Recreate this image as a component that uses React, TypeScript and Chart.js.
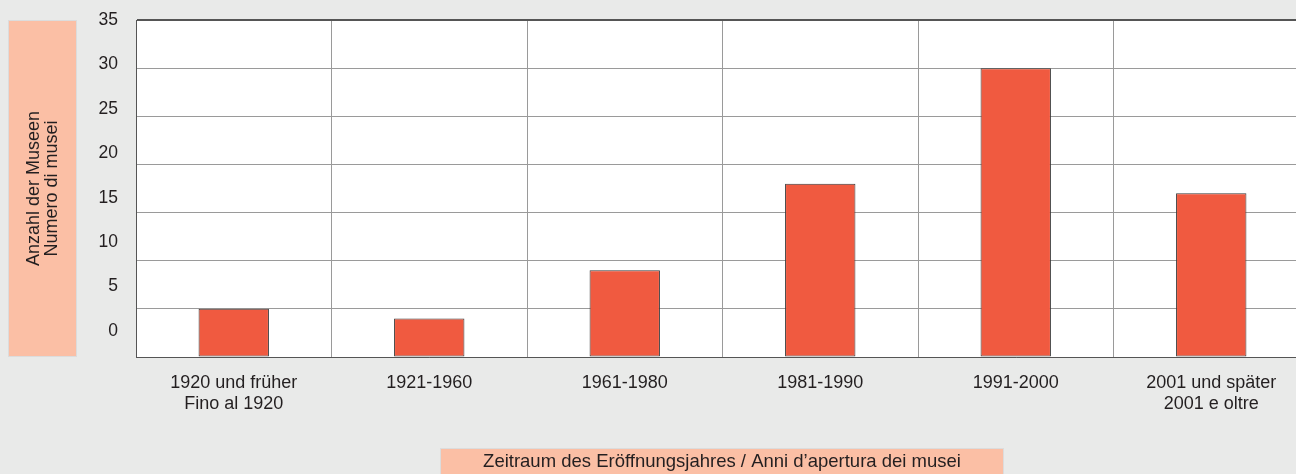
import React, { useEffect, useRef } from "react";
import { Chart, registerables } from "chart.js";
Chart.register(...registerables);

const categories: string[][] = [
  ["1920 und früher", "Fino al 1920"],
  ["1921-1960"],
  ["1961-1980"],
  ["1981-1990"],
  ["1991-2000"],
  ["2001 und später", "2001 e oltre"],
];
const museumCounts = [5, 4, 9, 18, 30, 17];
const yTickValues = [0, 5, 10, 15, 20, 25, 30, 35];
const yTitleLines = ["Anzahl der Museen", "Numero di musei"];
const xTitle = "Zeitraum des Eröffnungsjahres / Anni d’apertura dei musei";
const yMin = 0;
const yMax = 35;
const yStep = 5;
// label axis is compressed as in the original (0 label sits above the baseline)
const yLabelMin = -2.92;

const BG = "#e9eae9";
const SALMON = "#fbbfa5";
const BAR = "#f05a40";
const TEXT = "#231f20";
const FONT = "'Liberation Sans', Arial, sans-serif";

const decorPlugin = {
  id: "decor",
  beforeDraw(chart: any) {
    const { ctx, chartArea } = chart;
    const top = chartArea.top;
    const bottom = chartArea.bottom;
    ctx.save();
    ctx.fillStyle = BG;
    ctx.fillRect(0, 0, chart.width, chart.height);
    ctx.fillStyle = "#ffffff";
    ctx.fillRect(chartArea.left, top, chartArea.right - chartArea.left, bottom - top);
    // y title box
    ctx.fillStyle = SALMON;
    ctx.fillRect(8, top, 69, bottom - top);
    ctx.strokeStyle = "#dcdcdc";
    ctx.lineWidth = 1;
    ctx.strokeRect(8.5, top + 0.5, 68, bottom - top - 1);
    ctx.fillStyle = TEXT;
    ctx.font = `18px ${FONT}`;
    ctx.textAlign = "center";
    ctx.textBaseline = "middle";
    const cy = (top + bottom) / 2;
    ctx.translate(43, cy);
    ctx.rotate(-Math.PI / 2);
    ctx.fillText(yTitleLines[0], 0, -9);
    ctx.fillText(yTitleLines[1], 0, 9);
    ctx.restore();
    // x title box
    ctx.save();
    ctx.fillStyle = SALMON;
    ctx.fillRect(440, 448, 564, 26);
    ctx.strokeStyle = "#dcdcdc";
    ctx.strokeRect(440.5, 448.5, 563, 26);
    ctx.fillStyle = TEXT;
    ctx.font = `18.5px ${FONT}`;
    ctx.textAlign = "center";
    ctx.textBaseline = "middle";
    ctx.fillText(xTitle, 722, 462);
    ctx.restore();
  },
};

const noPad = (s: any) => {
  s.paddingTop = 0;
  s.paddingBottom = 0;
  s.paddingLeft = 0;
  s.paddingRight = 0;
};

export default function App() {
  const ref = useRef<HTMLCanvasElement | null>(null);
  useEffect(() => {
    document.body.style.margin = "0";
    document.body.style.background = BG;
    if (!ref.current) return;
    const chart = new Chart(ref.current, {
      type: "bar",
      data: {
        labels: categories,
        datasets: [
          {
            data: museumCounts,
            backgroundColor: BAR,
            borderColor: "#3a3a3a",
            borderWidth: 1,
            borderSkipped: false,
            categoryPercentage: 1,
            barPercentage: 0.36,
          },
        ],
      },
      options: {
        animation: false,
        responsive: false,
        devicePixelRatio: 1,
        layout: { padding: { top: 20, right: 0, left: 0, bottom: 0 } },
        plugins: { legend: { display: false }, tooltip: { enabled: false } },
        scales: {
          x: {
            grid: { display: true, offset: true, color: "#9a9a9a", drawTicks: false, lineWidth: 1 },
            border: { display: true, color: "#555555", width: 1 },
            ticks: { color: TEXT, font: { size: 18, family: FONT }, padding: 15, maxRotation: 0, autoSkip: false },
            afterFit: (s: any) => { s.height = 117; noPad(s); },
          },
          y: {
            min: yMin,
            max: yMax,
            grid: {
              color: (c: any) => (c.tick && c.tick.value === yMax ? "#555555" : "#9a9a9a"),
              lineWidth: (c: any) => (c.tick && c.tick.value === yMax ? 2 : 1),
              drawTicks: false,
            },
            border: { display: true, color: "#555555", width: 1 },
            ticks: { stepSize: yStep, display: false },
            afterFit: (s: any) => { s.width = 0; noPad(s); },
          },
          yLabels: {
            position: "left",
            min: yLabelMin,
            max: yMax,
            grid: { display: false, drawTicks: false },
            border: { display: false },
            afterBuildTicks: (s: any) => { s.ticks = yTickValues.map((v) => ({ value: v })); },
            ticks: { color: TEXT, font: { size: 17.5, family: FONT }, padding: 18, callback: (v: any) => String(v) },
            afterFit: (s: any) => { s.width = 136; noPad(s); },
          },
        },
      },
      plugins: [decorPlugin],
    });
    return () => chart.destroy();
  }, []);
  return (
    <div style={{ width: 1296, height: 474, overflow: "hidden", background: BG }}>
      <canvas ref={ref} width={1309} height={474} style={{ display: "block" }} />
    </div>
  );
}
